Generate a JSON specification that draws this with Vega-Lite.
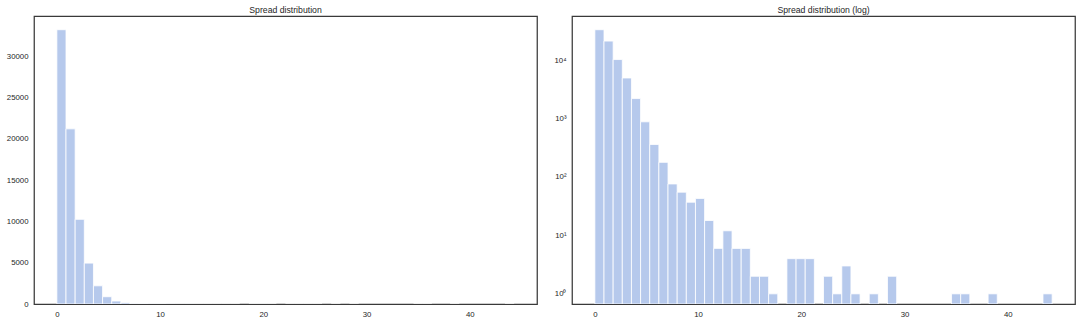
{
  "$schema": "https://vega.github.io/schema/vega-lite/v6.json",
  "autosize": {"type": "pad"},
  "padding": {"left": 5, "top": 5, "right": 0, "bottom": 0},
  "background": "white",
  "bounds": "flush",
  "spacing": 35,
  "config": {
    "view": {"stroke": "#3a3a3a", "strokeWidth": 1.25},
    "font": "Liberation Sans",
    "axis": {
      "grid": false,
      "ticks": false,
      "domain": false,
      "labelFont": "Liberation Sans",
      "labelFontSize": 7.8,
      "labelColor": "#262626",
      "labelPadding": 6,
      "title": null
    },
    "title": {"font": "Liberation Sans", "fontSize": 8.7, "fontWeight": "normal", "color": "#262626", "offset": 1}
  },
  "datasets": {
    "hist": [
      {"start": 0, "end": 0.886, "count": 33200},
      {"start": 0.886, "end": 1.772, "count": 21200},
      {"start": 1.772, "end": 2.658, "count": 10250},
      {"start": 2.658, "end": 3.544, "count": 4950},
      {"start": 3.544, "end": 4.43, "count": 2200},
      {"start": 4.43, "end": 5.316, "count": 880},
      {"start": 5.316, "end": 6.202, "count": 360},
      {"start": 6.202, "end": 7.088, "count": 178},
      {"start": 7.088, "end": 7.974, "count": 76},
      {"start": 7.974, "end": 8.86, "count": 55},
      {"start": 8.86, "end": 9.746, "count": 37},
      {"start": 9.746, "end": 10.632, "count": 43},
      {"start": 10.632, "end": 11.518, "count": 18},
      {"start": 11.518, "end": 12.404, "count": 6},
      {"start": 12.404, "end": 13.29, "count": 12},
      {"start": 13.29, "end": 14.176, "count": 6},
      {"start": 14.176, "end": 15.062, "count": 6},
      {"start": 15.062, "end": 15.948, "count": 2},
      {"start": 15.948, "end": 16.834, "count": 2},
      {"start": 16.834, "end": 17.72, "count": 1},
      {"start": 18.606, "end": 19.492, "count": 4},
      {"start": 19.492, "end": 20.378, "count": 4},
      {"start": 20.378, "end": 21.264, "count": 4},
      {"start": 22.15, "end": 23.036, "count": 2},
      {"start": 23.036, "end": 23.922, "count": 1},
      {"start": 23.922, "end": 24.808, "count": 3},
      {"start": 24.808, "end": 25.694, "count": 1},
      {"start": 26.58, "end": 27.466, "count": 1},
      {"start": 28.352, "end": 29.238, "count": 2},
      {"start": 34.554, "end": 35.44, "count": 1},
      {"start": 35.44, "end": 36.326, "count": 1},
      {"start": 38.098, "end": 38.984, "count": 1},
      {"start": 43.414, "end": 44.3, "count": 1}
    ]
  },
  "hconcat": [
    {
      "title": "Spread distribution",
      "width": 503,
      "height": 288,
      "data": {"name": "hist"},
      "mark": {"type": "bar", "color": "#b6c9ec", "stroke": "white", "strokeWidth": 0.8, "clip": true},
      "encoding": {
        "x": {"field": "start", "type": "quantitative", "scale": {"domain": [-2.215, 46.515], "nice": false, "zero": false}, "axis": {"values": [0, 10, 20, 30, 40]}},
        "x2": {"field": "end"},
        "y": {"field": "count", "type": "quantitative", "scale": {"domain": [0, 34860], "nice": false}, "axis": {"values": [0, 5000, 10000, 15000, 20000, 25000, 30000], "format": "d"}},
        "y2": {"value": "height"}
      }
    },
    {
      "title": "Spread distribution (log)",
      "width": 503,
      "height": 288,
      "data": {"name": "hist"},
      "mark": {"type": "bar", "color": "#b6c9ec", "stroke": "white", "strokeWidth": 0.8, "clip": true},
      "encoding": {
        "x": {"field": "start", "type": "quantitative", "scale": {"domain": [-2.215, 46.515], "nice": false, "zero": false}, "axis": {"values": [0, 10, 20, 30, 40]}},
        "x2": {"field": "end"},
        "y": {"field": "count", "type": "quantitative", "scale": {"type": "log", "domain": [0.67, 57000], "nice": false}, "axis": {"values": [1, 10, 100, 1000, 10000], "labelExpr": "['10⁰','10¹','10²','10³','10⁴'][round(log(datum.value)/LN10)]"}},
        "y2": {"value": "height"}
      }
    }
  ]
}
